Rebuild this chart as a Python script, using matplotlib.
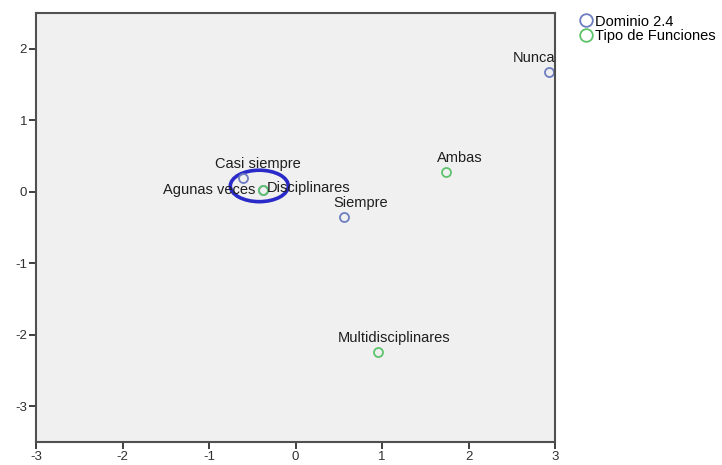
import matplotlib.pyplot as plt
from matplotlib.patches import Ellipse

plt.rcParams['font.family'] = ['Liberation Sans', 'DejaVu Sans']
plt.rcParams['axes.unicode_minus'] = False

# Dominio 2.4 category points
dom_labels = ['Nunca', 'Casi siempre', 'Agunas veces', 'Siempre']
dom_x = [2.93, -0.61, -0.38, 0.56]
dom_y = [1.68, 0.19, 0.03, -0.36]

# Tipo de Funciones category points
tipo_labels = ['Disciplinares', 'Ambas', 'Multidisciplinares']
tipo_x = [-0.38, 1.74, 0.95]
tipo_y = [0.03, 0.28, -2.24]

blue = '#6e7ec0'
green = '#5ec46c'
txt = '#1e1e1e'

fig = plt.figure(figsize=(7.22, 4.65), dpi=100)
ax = fig.add_axes([0.050, 0.050, 0.719, 0.922])
ax.set_facecolor('#f0f0f0')

ax.plot(dom_x, dom_y, 'o', mfc='none', mec=blue, ms=6.5, mew=1.3,
        label='Dominio 2.4', clip_on=False)
ax.plot(tipo_x, tipo_y, 'o', mfc='none', mec=green, ms=6.5, mew=1.3,
        label='Tipo de Funciones', clip_on=False)

# label offsets (points) to mimic the original placement
dom_off = [(-11, 10), (11, 10), (-5, 0), (12, 10)]
dom_ha = ['center', 'center', 'right', 'center']
for lab, x, y, off, ha in zip(dom_labels, dom_x, dom_y, dom_off, dom_ha):
    ax.annotate(lab, (x, y), xytext=off, textcoords='offset points',
                ha=ha, va='center', fontsize=10.5, color=txt,
                annotation_clip=False)

tipo_off = [(3, 1), (10, 10), (12, 10)]
tipo_ha = ['left', 'center', 'center']
for lab, x, y, off, ha in zip(tipo_labels, tipo_x, tipo_y, tipo_off, tipo_ha):
    ax.annotate(lab, (x, y), xytext=off, textcoords='offset points',
                ha=ha, va='center', fontsize=10.5, color=txt,
                annotation_clip=False)

# hand-drawn highlight ellipse
ax.add_patch(Ellipse((-0.42, 0.08), 0.67, 0.44, fill=False,
                     edgecolor='#2a2ac8', lw=2.6))

ax.set_xlim(-3, 3)
ax.set_ylim(-3.5, 2.5)
ax.set_xticks(range(-3, 4))
ax.set_yticks(range(-3, 3))
ax.tick_params(direction='out', length=5, width=1.3, labelsize=9.5,
               colors='#303030', pad=1.5)
for s in ax.spines.values():
    s.set_color('#505050')
    s.set_linewidth(1.5)

ax.legend(loc='upper left', bbox_to_anchor=(1.035, 1.01), frameon=False,
          fontsize=10.5, handletextpad=0.15, borderaxespad=0, labelspacing=0.05,
          handlelength=0.9, markerscale=1.4)

fig.savefig('out.png', dpi=100)
